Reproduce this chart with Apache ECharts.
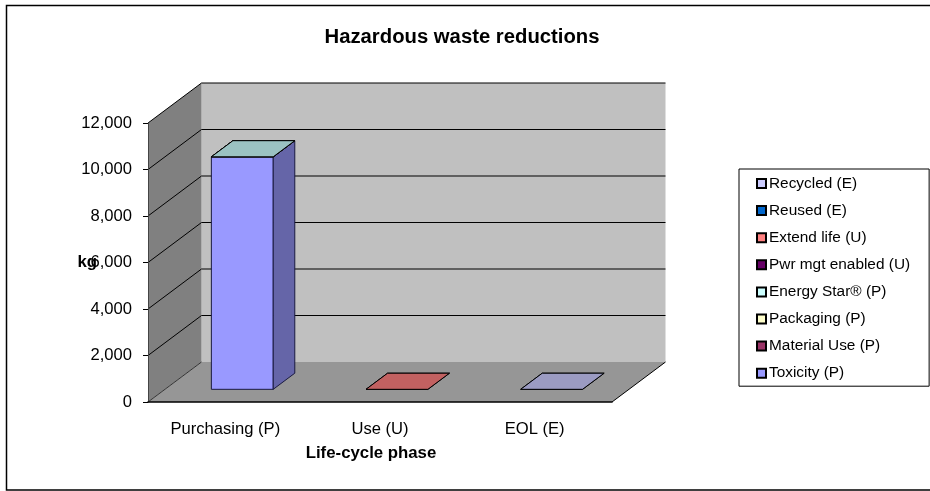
<!DOCTYPE html>
<html>
<head>
<meta charset="utf-8">
<title>Hazardous waste reductions</title>
<script src="https://cdn.jsdelivr.net/npm/echarts@6/dist/echarts.min.js"></script>
<style>
  html, body { margin: 0; padding: 0; background: #fff; overflow: hidden; }
  #chart { width: 930px; height: 491px; }
</style>
</head>
<body>
<div id="chart"></div>
<script>
const phases = ['Purchasing (P)', 'Use (U)', 'EOL (E)'];
const yTicks = [2000, 4000, 6000, 8000, 10000, 12000];

// blank cells stay null, zeros still draw a flat tile in the stack
const toxicity  = [10000, null, null];
const material  = [0, null, null];
const packaging = [0, null, null];
const energy    = [0, null, null];
const power     = [null, 0, null];
const extend    = [null, 0, null];
const reused    = [null, null, 0];
const recycled  = [null, null, 0];

const stackOrder = [
    { name: 'Toxicity (P)', color: '#9999FF', values: toxicity },
    { name: 'Material Use (P)', color: '#993366', values: material },
    { name: 'Packaging (P)', color: '#FFFFCC', values: packaging },
    { name: 'Energy Star® (P)', color: '#CCFFFF', values: energy },
    { name: 'Pwr mgt enabled (U)', color: '#660066', values: power },
    { name: 'Extend life (U)', color: '#FF8080', values: extend },
    { name: 'Reused (E)', color: '#0066CC', values: reused },
    { name: 'Recycled (E)', color: '#CCCCFF', values: recycled }
];

// oblique projection of the fake 3D box
const DEPTH_X = 53.5;
const DEPTH_Y = -40;
const BAR_WIDTH = 0.4;      // share of a category band
const BAR_NEAR = 0.317;     // share of the depth
const BAR_FAR = 0.72;

const back = (p, t = 1) => [p[0] + DEPTH_X * t, p[1] + DEPTH_Y * t];

function shade(hex, k) {
    const n = parseInt(hex.slice(1), 16);
    const c = [n >> 16, (n >> 8) & 255, n & 255].map(v => Math.round(v * k));
    return `rgb(${c.join(',')})`;
}

function poly(points, fill, stroke, lineWidth = 1) {
    return {
        type: 'polygon',
        shape: { points },
        style: { fill, stroke: stroke || null, lineWidth }
    };
}

function renderWalls(params, api) {
    const max = yTicks[yTicks.length - 1];
    const band = api.size([1, 0])[0];
    const zero = api.coord([0, 0]);
    const top = api.coord([0, max]);
    const left = zero[0] - band / 2;
    const right = left + band * phases.length;
    const a = [left, zero[1]];
    const b = [right, zero[1]];
    const c = [left, top[1]];
    const d = [right, top[1]];
    return {
        type: 'group',
        children: [
            poly([back(a), back(b), back(d), back(c)], '#C0C0C0'),
            poly([a, back(a), back(c), c], '#808080'),
            poly([a, b, back(b), back(a)], '#969696'),
            { type: 'line', shape: { x1: b[0], y1: b[1], x2: back(b)[0], y2: back(b)[1] }, style: { stroke: '#000', lineWidth: 1 } },
            { type: 'line', shape: { x1: a[0], y1: a[1], x2: back(a)[0], y2: back(a)[1] }, style: { stroke: '#333', lineWidth: 1 } }
        ]
    };
}

function renderGridline(params, api) {
    const band = api.size([1, 0])[0];
    const p = api.coord([0, api.value(0)]);
    const front = [p[0] - band / 2, p[1]];
    const rear = back(front);
    const end = [rear[0] + band * phases.length, rear[1]];
    return {
        type: 'polyline',
        shape: { points: [front, rear, end] },
        style: { fill: null, stroke: '#000', lineWidth: 1 }
    };
}

function renderBar(params, api) {
    const cat = api.value(0);
    const band = api.size([1, 0])[0];
    const w = band * BAR_WIDTH;
    const lo = api.coord([cat, api.value(1)]);
    const hi = api.coord([cat, api.value(2)]);
    const x0 = lo[0] - w / 2;
    const x1 = lo[0] + w / 2;
    const bl = back([x0, lo[1]], BAR_NEAR);
    const br = back([x1, lo[1]], BAR_NEAR);
    const tl = back([x0, hi[1]], BAR_NEAR);
    const tr = back([x1, hi[1]], BAR_NEAR);
    const span = BAR_FAR - BAR_NEAR;
    const color = api.visual('color');
    const edge = '#1a1a40';
    const children = [];
    if (hi[1] !== lo[1]) {
        children.push(poly([bl, br, tr, tl], color, edge));
        children.push(poly([br, back(br, span), back(tr, span), tr], shade(color, 0.66), edge));
    }
    children.push(poly([tl, tr, back(tr, span), back(tl, span)], shade(color, 0.76), hi[1] === lo[1] ? '#000' : '#555'));
    return { type: 'group', children };
}

// running total per phase gives each series its floor and ceiling
const totals = phases.map(() => 0);
const barSeries = stackOrder.map(s => {
    const data = [];
    s.values.forEach((v, i) => {
        if (v === null) return;
        data.push([i, totals[i], totals[i] + v]);
        totals[i] += v;
    });
    return {
        type: 'custom',
        name: s.name,
        z: 5,
        renderItem: renderBar,
        encode: { x: 0, y: [1, 2] },
        itemStyle: { color: s.color, borderColor: '#000', borderWidth: 1 },
        data
    };
});

const chart = echarts.init(document.getElementById('chart'), null, { renderer: 'canvas' });
const font = 'Liberation Sans, Arial, sans-serif';

chart.setOption({
    animation: false,
    textStyle: { fontFamily: font },
    title: {
        text: 'Hazardous waste reductions',
        left: 457,
        top: 22,
        textAlign: 'center',
        textStyle: { fontFamily: font, fontSize: 20.3, fontWeight: 'bold', color: '#000' }
    },
    // the frame runs off the right edge of the picture
    graphic: [{
        type: 'rect',
        shape: { x: 6.5, y: 5.5, width: 940, height: 484.5 },
        style: { fill: null, stroke: '#000', lineWidth: 1.5 },
        silent: true
    }],
    grid: { left: 148, top: 123, width: 464, height: 279 },
    legend: {
        orient: 'vertical',
        left: 739,
        top: 169,
        padding: [7, 19, 5.5, 17],
        backgroundColor: '#fff',
        borderColor: '#000',
        borderWidth: 1,
        borderRadius: 0,
        itemWidth: 9,
        itemHeight: 9,
        itemGap: 12.1,
        icon: 'rect',
        selectedMode: false,
        textStyle: { fontFamily: font, fontSize: 15.4, lineHeight: 15, color: '#000', padding: [0, 0, 0, -2] },
        data: stackOrder.map(s => s.name).reverse()
    },
    xAxis: {
        type: 'category',
        data: phases,
        z: 8,
        name: 'Life-cycle phase',
        nameLocation: 'middle',
        nameMoveOverlap: false,
        nameGap: 43,
        nameTextStyle: { fontFamily: font, fontSize: 16.8, fontWeight: 'bold', color: '#000', padding: [0, 18, 0, 0] },
        axisLine: { lineStyle: { color: '#000', width: 1.5 } },
        axisTick: { alignWithLabel: false, length: 5, lineStyle: { color: '#000' } },
        axisLabel: { fontFamily: font, fontSize: 16.6, color: '#000', margin: 19 }
    },
    yAxis: {
        type: 'value',
        min: 0,
        max: 12000,
        interval: 2000,
        z: 8,
        name: 'kg',
        nameLocation: 'middle',
        nameMoveOverlap: false,
        nameRotate: 0,
        nameGap: 51,
        nameTextStyle: { fontFamily: font, fontSize: 16.8, fontWeight: 'bold', color: '#000' },
        axisLine: { show: true, lineStyle: { color: '#444', width: 1 } },
        axisTick: { show: true, length: 5, lineStyle: { color: '#000' } },
        axisLabel: { fontFamily: font, fontSize: 16.6, color: '#000', margin: 16, formatter: v => v.toLocaleString('en-US') },
        splitLine: { show: false }
    },
    series: [
        { type: 'custom', name: 'walls', z: 1, renderItem: renderWalls, silent: true, data: [[0]] },
        { type: 'custom', name: 'gridlines', z: 2, renderItem: renderGridline, silent: true, encode: { y: 0 }, data: yTicks.map(v => [v]) },
        ...barSeries
    ]
});
</script>
</body>
</html>
